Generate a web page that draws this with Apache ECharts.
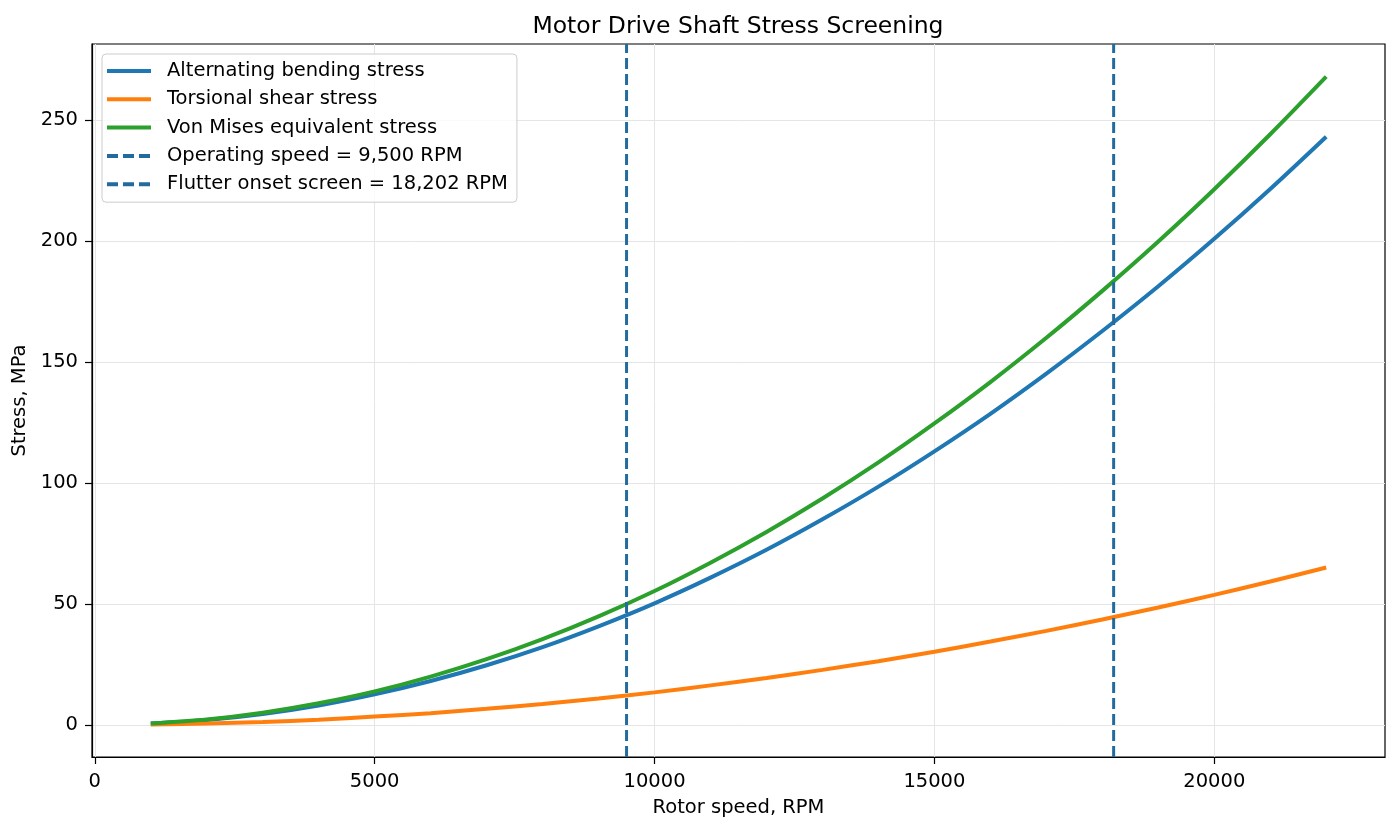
<!DOCTYPE html>
<html style="height: 100%">
<head>
    <meta charset="utf-8">
    <script src="https://cdn.jsdelivr.net/npm/echarts@6/dist/echarts.min.js"></script>
</head>
<body style="height: 100%; margin: 0; background: #fff">
<div id="container" style="width: 1400px; height: 831px"></div>
<script>
    // rotor speed samples (RPM) and stresses (MPa)
    var rpm = [1000, 2000, 3000, 4000, 5000, 6000, 7000, 8000, 9000, 10000, 11000,
        12000, 13000, 14000, 15000, 16000, 17000, 18000, 19000, 20000, 21000, 22000];
    var bending = [0.5, 2.0, 4.5, 8.0, 12.6, 18.1, 24.6, 32.1, 40.7, 50.2, 60.8,
        72.3, 84.9, 98.4, 113.0, 128.5, 145.1, 162.7, 181.2, 200.8, 221.4, 243.0];
    var torsion = [0.13, 0.54, 1.2, 2.1, 3.4, 4.8, 6.6, 8.6, 10.9, 13.4, 16.3,
        19.3, 22.7, 26.3, 30.2, 34.4, 38.8, 43.5, 48.5, 53.7, 59.2, 65.0];
    var vonMises = [0.55, 2.2, 5.0, 8.9, 13.8, 19.9, 27.1, 35.4, 44.8, 55.3, 67.0,
        79.7, 93.5, 108.4, 124.5, 141.6, 159.9, 179.3, 199.7, 221.3, 244.0, 267.8];
    var operatingRpm = 9500;
    var flutterRpm = 18202;
    var xTicks = [0, 5000, 10000, 15000, 20000];
    var yTicks = [0, 50, 100, 150, 200, 250];
    var xRange = [-50, 23050];
    var yRange = [-13.3, 281.3];

    function pairs(xs, ys) {
        var out = [];
        for (var i = 0; i < xs.length; i++) out.push([xs[i], ys[i]]);
        return out;
    }

    var font = 'DejaVu Sans';
    var fs = 19.5;
    var dash = '#236b9c';
    var dom = document.getElementById('container');
    var myChart = echarts.init(dom);

    var option = {
        animation: false,
        title: {
            text: 'Motor Drive Shaft Stress Screening',
            left: 733,
            top: 10,
            textAlign: 'center',
            textStyle: {fontFamily: font, fontSize: 23.5, fontWeight: 'normal', color: '#000'}
        },
        legend: {
            orient: 'vertical',
            left: 102,
            top: 54,
            padding: [7, 9, 8, 3],
            itemWidth: 44,
            itemHeight: 14,
            itemGap: 8.3,
            borderColor: '#cccccc',
            borderWidth: 1,
            borderRadius: 4,
            backgroundColor: 'rgba(255,255,255,0.8)',
            itemStyle: {opacity: 0},
            lineStyle: {width: 4},
            textStyle: {fontFamily: font, fontSize: fs, color: '#000', lineHeight: 20, padding: [0, 0, 0, 11]},
            data: ['Alternating bending stress', 'Torsional shear stress', 'Von Mises equivalent stress',
                'Operating speed = 9,500 RPM', 'Flutter onset screen = 18,202 RPM']
        },
        grid: {
            left: 92, right: 15, top: 44, bottom: 74,
            show: true, borderColor: '#000', borderWidth: 1.2
        },
        xAxis: {
            type: 'value',
            min: xRange[0],
            max: xRange[1],
            name: 'Rotor speed, RPM',
            nameLocation: 'middle',
            nameGap: 41,
            nameTextStyle: {fontFamily: font, fontSize: fs, color: '#000'},
            axisLine: {show: true, onZero: false, lineStyle: {color: '#000', width: 1.2}},
            axisTick: {show: true, length: 7, customValues: xTicks, lineStyle: {color: '#000', width: 1.2}},
            axisLabel: {
                customValues: xTicks, margin: 15,
                fontFamily: font, fontSize: fs, color: '#000',
                formatter: function (v) { return String(v); }
            },
            splitLine: {show: true, lineStyle: {color: '#e5e5e5', width: 1}}
        },
        yAxis: {
            type: 'value',
            min: yRange[0],
            max: yRange[1],
            name: 'Stress, MPa',
            nameLocation: 'middle',
            nameGap: 57,
            nameTextStyle: {fontFamily: font, fontSize: fs, color: '#000'},
            axisLine: {show: true, onZero: false, lineStyle: {color: '#000', width: 1.2}},
            axisTick: {show: true, length: 7, customValues: yTicks, lineStyle: {color: '#000', width: 1.2}},
            axisLabel: {
                customValues: yTicks, margin: 14,
                fontFamily: font, fontSize: fs, color: '#000',
                formatter: function (v) { return String(v); }
            },
            splitLine: {show: true, lineStyle: {color: '#e5e5e5', width: 1}}
        },
        series: [
            {
                name: 'Alternating bending stress',
                type: 'line',
                symbol: 'none',
                smooth: 0.3,
                color: '#1f77b4',
                lineStyle: {width: 4},
                data: pairs(rpm, bending)
            },
            {
                name: 'Torsional shear stress',
                type: 'line',
                symbol: 'none',
                smooth: 0.3,
                color: '#ff7f0e',
                lineStyle: {width: 4},
                data: pairs(rpm, torsion)
            },
            {
                name: 'Von Mises equivalent stress',
                type: 'line',
                symbol: 'none',
                smooth: 0.3,
                color: '#2ca02c',
                lineStyle: {width: 4},
                data: pairs(rpm, vonMises)
            },
            {
                name: 'Operating speed = 9,500 RPM',
                type: 'line',
                symbol: 'none',
                color: dash,
                lineStyle: {width: 3, type: [11, 5]},
                data: [[operatingRpm, yRange[0]], [operatingRpm, yRange[1]]]
            },
            {
                name: 'Flutter onset screen = 18,202 RPM',
                type: 'line',
                symbol: 'none',
                color: dash,
                lineStyle: {width: 3, type: [11, 5]},
                data: [[flutterRpm, yRange[0]], [flutterRpm, yRange[1]]]
            }
        ]
    };

    if (option && typeof option === "object") {
        myChart.setOption(option, true);
    }
</script>
</body>
</html>
